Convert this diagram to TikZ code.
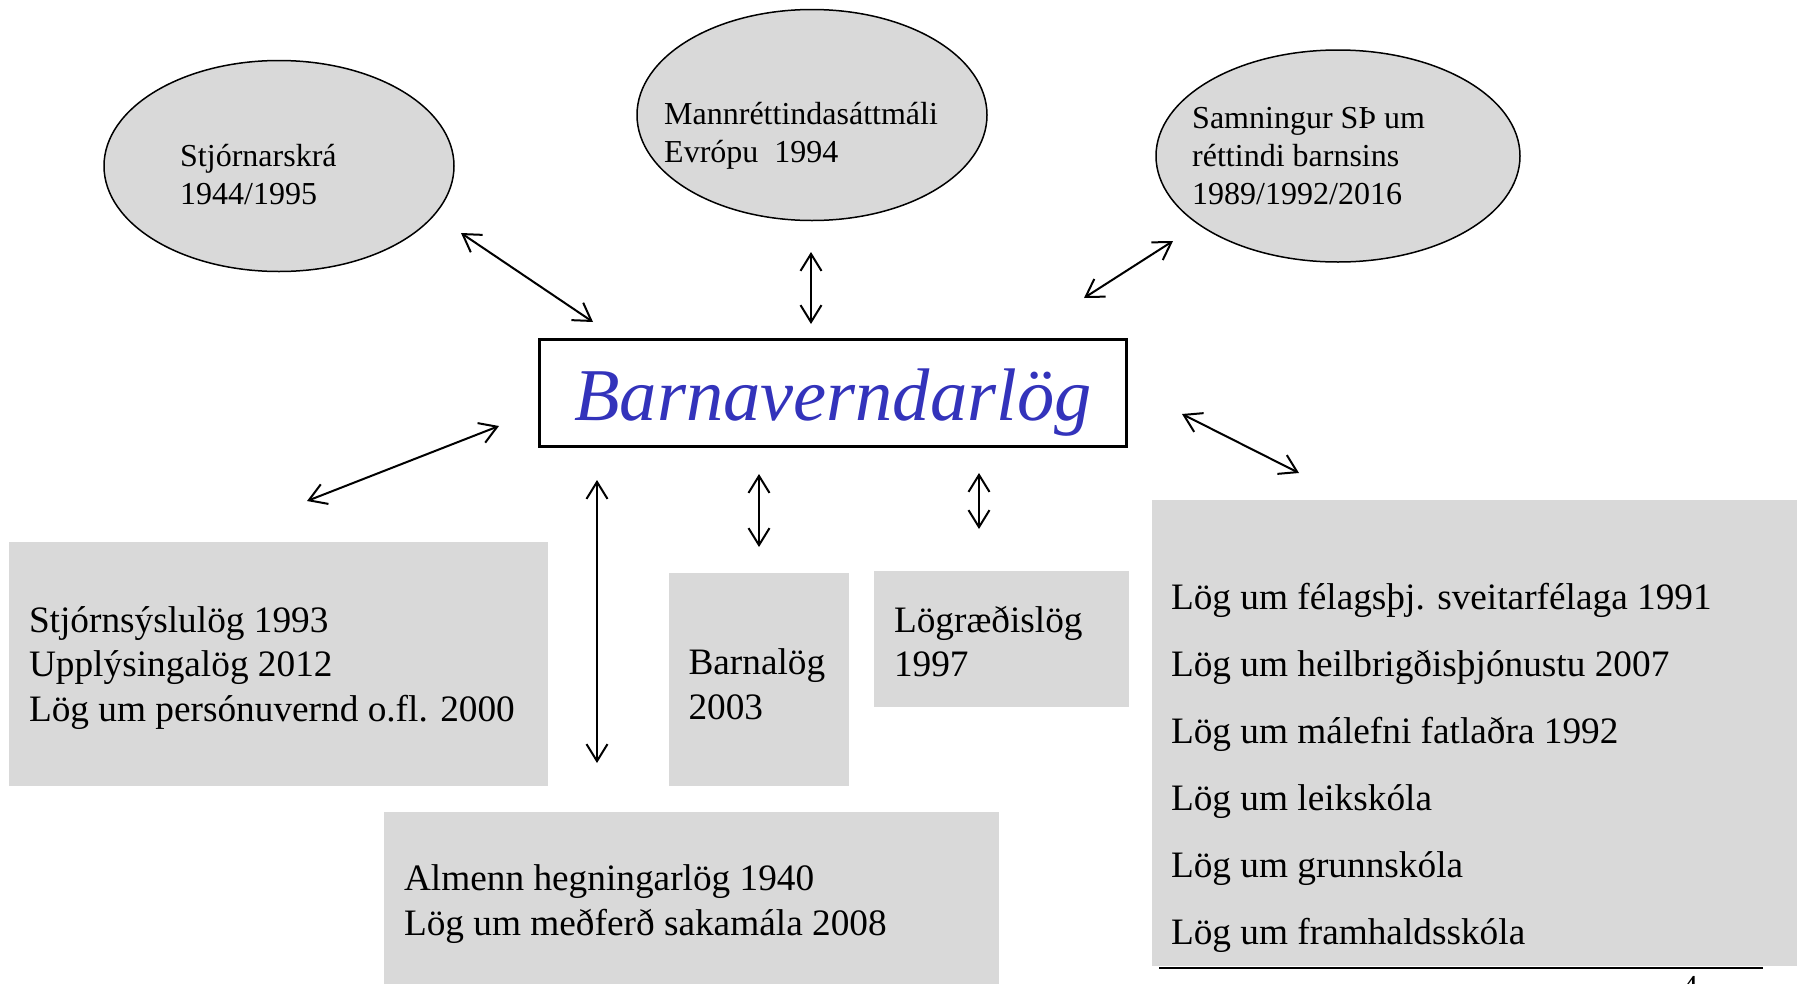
\documentclass[tikz,border=0pt]{standalone}
\usepackage{fontspec}
\setmainfont{Liberation Serif}
\usepackage{xcolor}
\definecolor{lawgray}{RGB}{217,217,217}
\definecolor{titleblue}{RGB}{51,51,187}
\usetikzlibrary{positioning,arrows.meta,shapes.geometric}

\tikzset{
  treaty/.style={ellipse, draw, fill=lawgray, line width=1.5pt, inner sep=0pt},
  treatytext/.style={anchor=west, align=left, inner sep=0pt, font=\fontsize{32}{38}\selectfont},
  lawbox/.style={fill=lawgray, inner sep=0pt},
  lawtext/.style={anchor=west, align=left, inner sep=0pt, font=\fontsize{37.3}{44.7}\selectfont},
  link/.style={{Straight Barb[length=17pt,width=21pt]}-{Straight Barb[length=17pt,width=21pt]}, line width=2pt},
}

\begin{document}
\begin{tikzpicture}[x=1pt,y=-1pt]
\useasboundingbox (0,0) rectangle (1799,983);

% treaties
\node[treaty, minimum width=350pt, minimum height=211pt] (stjskra) at (279,166) {};
\node[treatytext] at ([xshift=-99pt,yshift=-9pt]stjskra.center) {Stjórnarskrá\\1944/1995};
\node[treaty, minimum width=350pt, minimum height=211pt] (mse) at (812,115) {};
\node[treatytext] at ([xshift=-148pt,yshift=-21pt]mse.center) {Mannréttindasáttmáli\\Evrópu~~1994};
\node[treaty, minimum width=364pt, minimum height=212pt] (barnas) at (1338,156) {};
\node[treatytext] at ([xshift=-146pt]barnas.center) {Samningur SÞ um\\réttindi barnsins\\1989/1992/2016};

% main law
\node[draw, line width=3.5pt, minimum width=587pt, minimum height=107pt, inner sep=0pt] (bvl) at (833,393) {};
\node[inner sep=0pt, text=titleblue, font=\fontsize{74.5}{80}\selectfont\itshape] (bvltxt) at ([yshift=-10pt]bvl.center) {Barnaverndarlög};

% other laws
\node[lawbox, minimum width=539pt, minimum height=244pt] (stjsysl) at (278.5,664) {};
\node[lawtext] at ([xshift=20pt,yshift=-4pt]stjsysl.west) {Stjórnsýslulög 1993\\Upplýsingalög 2012\\Lög um persónuvernd o.fl. 2000};
\node[lawbox, minimum width=180pt, minimum height=213pt] (barnal) at (759,679.5) {};
\node[lawtext] at ([xshift=19.5pt,yshift=-4.5pt]barnal.west) {Barnalög\\2003};
\node[lawbox, minimum width=255pt, minimum height=136pt] (lograd) at (1001.5,639) {};
\node[lawtext] at ([xshift=20pt,yshift=-2.5pt]lograd.west) {Lögræðislög\\1997};
\node[lawbox, minimum width=615pt, minimum height=176pt] (hegn) at (691.5,900) {};
\node[lawtext] at ([xshift=20pt,yshift=-4pt]hegn.west) {Almenn hegningarlög 1940\\Lög um meðferð sakamála 2008};
\node[lawbox, minimum width=645pt, minimum height=466pt] (felag) at (1474.5,733) {};
\node[lawtext, font=\fontsize{37.3}{67}\selectfont] (felagtxt) at ([xshift=19pt,yshift=-35pt]felag.west)
  {Lög um félagsþj. sveitarfélaga 1991\\Lög um heilbrigðisþjónustu 2007\\Lög um málefni fatlaðra 1992\\Lög um leikskóla\\Lög um grunnskóla\\Lög um framhaldsskóla};
\coordinate (ruleA) at (1159,968);
\coordinate (ruleB) at (1763,968);
\draw[line width=2pt] (ruleA) -- (ruleB);
\node[anchor=north, inner sep=0pt, font=\fontsize{32}{38}\selectfont] (pagenum) at (1690,976) {4};

% arrow ends
\coordinate (a1s) at (461,233); \coordinate (a1e) at (593,322);
\coordinate (a2s) at (811,252); \coordinate (a2e) at (811,324);
\coordinate (a3s) at (1084,298); \coordinate (a3e) at (1173,241);
\coordinate (a4s) at (307,501); \coordinate (a4e) at (499,426);
\coordinate (a5s) at (597,480); \coordinate (a5e) at (597,763);
\coordinate (a6s) at (759,474); \coordinate (a6e) at (759,547);
\coordinate (a7s) at (979,473); \coordinate (a7e) at (979,529);
\coordinate (a8s) at (1182,414); \coordinate (a8e) at (1299,473);

\draw[link] (a1s) -- (a1e);
\draw[link] (a2s) -- (a2e);
\draw[link] (a3s) -- (a3e);
\draw[link] (a4s) -- (a4e);
\draw[link] (a5s) -- (a5e);
\draw[link] (a6s) -- (a6e);
\draw[link] (a7s) -- (a7e);
\draw[link] (a8s) -- (a8e);
\end{tikzpicture}
\end{document}
